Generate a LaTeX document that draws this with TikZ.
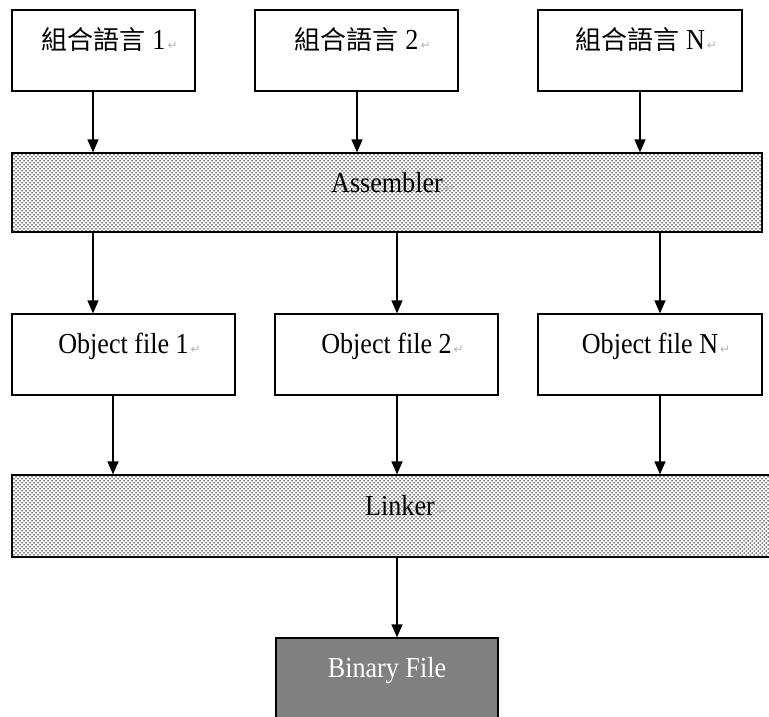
\documentclass[tikz,border=0pt]{standalone}
\usepackage{fontspec}
\setmainfont{Liberation Serif}
\newfontfamily\cjk{Noto Sans CJK TC}
\newfontfamily\latinf[FakeStretch=0.9]{Liberation Serif}
\newfontfamily\markf{DejaVu Sans}
\usetikzlibrary{arrows.meta,patterns}
\pgfdeclarepatternformonly{wdots}{\pgfqpoint{-1pt}{-1pt}}{\pgfqpoint{4pt}{4pt}}{\pgfqpoint{4pt}{4pt}}{%
  \pgfpathcircle{\pgfqpoint{0pt}{0pt}}{.75pt}%
  \pgfpathcircle{\pgfqpoint{2pt}{2pt}}{.75pt}%
  \pgfusepath{fill}}
\newcommand\pmark{\rlap{\markf\fontsize{12}{12}\selectfont\textcolor{gray!60}{\,↵}}}
\newcommand\cj[1]{{\cjk\fontsize{26}{28}\selectfont #1}}
\newcommand\lt[1]{{\latinf\fontsize{29}{32}\selectfont #1}}
\begin{document}
\begin{tikzpicture}[x=1pt,y=-1pt,
  boxs/.style={draw=black,line width=1.2pt,rectangle,inner sep=0pt,minimum height=81pt},
  dotbox/.style={boxs,pattern=wdots,pattern color=black},
  binbox/.style={boxs,fill=black!50},
  txt/.style={anchor=base,inner sep=0pt},
  arr/.style={draw=black,line width=1.2pt,-{Triangle[width=11pt,length=13pt]}}]
\useasboundingbox (0,0) rectangle (769,717);
\clip (0,0) rectangle (769,717);
% top boxes
\node[boxs,minimum width=183pt] (s1) at (103.5,50.5) {};
\node[boxs,minimum width=203pt] (s2) at (356.5,50.5) {};
\node[boxs,minimum width=204pt] (s3) at (640,50.5) {};
\node[txt] (t1) at ([yshift=-40pt]s1.north) {\cj{組合語言}\hspace{7pt}\lt{1}\pmark};
\node[txt] (t2) at ([yshift=-40pt]s2.north) {\cj{組合語言}\hspace{7pt}\lt{2}\pmark};
\node[txt] (t3) at ([yshift=-40pt]s3.north) {\cj{組合語言}\hspace{7pt}\lt{N}\pmark};
% assembler
\node[dotbox,minimum width=750pt,minimum height=79pt] (asm) at (387,192.5) {};
\node[txt] (ta) at ([yshift=-40pt]asm.north) {\lt{Assembler}\pmark};
% object files
\node[boxs,minimum width=223pt] (o1) at (123.5,354.5) {};
\node[boxs,minimum width=223pt] (o2) at (386.5,354.5) {};
\node[boxs,minimum width=224pt] (o3) at (650,354.5) {};
\node[txt] (to1) at ([yshift=-40pt]o1.north) {\lt{Object file 1}\pmark};
\node[txt] (to2) at ([yshift=-40pt]o2.north) {\lt{Object file 2}\pmark};
\node[txt] (to3) at ([yshift=-40pt]o3.north) {\lt{Object file N}\pmark};
% linker
\node[dotbox,minimum width=788pt,minimum height=82pt] (lnk) at (406,516) {};
\node[txt] (tl) at ([yshift=-41pt,xshift=-6pt]lnk.north) {\lt{Linker}\pmark};
% binary
\node[binbox,minimum width=222pt,minimum height=122pt] (bin) at (387,699) {};
\node[txt] (tb) at ([yshift=-40pt]bin.north) {\textcolor{white}{\lt{Binary File}}};
% connectors
\draw[arr] ([xshift=-10.5pt]s1.south) -- ([xshift=-10.5pt]s1.south |- asm.north);
\draw[arr] ([xshift=0.5pt]s2.south) -- ([xshift=0.5pt]s2.south |- asm.north);
\draw[arr] (s3.south) -- (s3.south |- asm.north);
\draw[arr] ([xshift=-30.5pt]o1.north |- asm.south) -- ([xshift=-30.5pt]o1.north);
\draw[arr] ([xshift=10.5pt]o2.north |- asm.south) -- ([xshift=10.5pt]o2.north);
\draw[arr] ([xshift=10pt]o3.north |- asm.south) -- ([xshift=10pt]o3.north);
\draw[arr] ([xshift=-10.5pt]o1.south) -- ([xshift=-10.5pt]o1.south |- lnk.north);
\draw[arr] ([xshift=10.5pt]o2.south) -- ([xshift=10.5pt]o2.south |- lnk.north);
\draw[arr] ([xshift=10pt]o3.south) -- ([xshift=10pt]o3.south |- lnk.north);
\draw[arr] ([xshift=10pt]bin.north |- lnk.south) -- ([xshift=10pt]bin.north);
\end{tikzpicture}
\end{document}
